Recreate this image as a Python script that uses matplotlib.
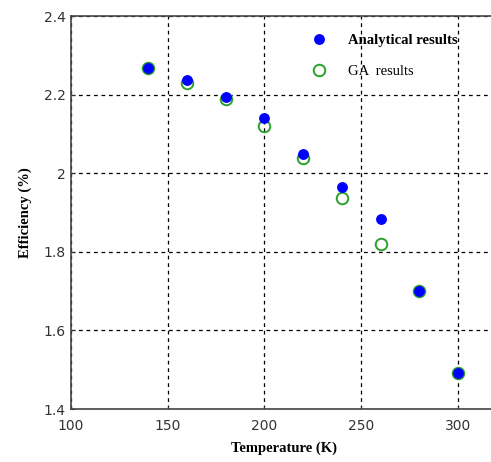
import matplotlib
matplotlib.use("Agg")
import matplotlib.pyplot as plt
from matplotlib.ticker import FuncFormatter

temperature = [140, 160, 180, 200, 220, 240, 260, 280, 300]
analytical = [2.268, 2.237, 2.195, 2.140, 2.049, 1.966, 1.883, 1.701, 1.492]
ga = [2.268, 2.229, 2.190, 2.121, 2.040, 1.938, 1.820, 1.701, 1.492]
xticks = [100, 150, 200, 250, 300]
yticks = [1.4, 1.6, 1.8, 2.0, 2.2, 2.4]

fig = plt.figure(figsize=(4.91, 4.62), dpi=100)
ax = fig.add_axes([0.1446, 0.1147, 0.867, 0.8506])

ax.plot(temperature, ga, linestyle='none', marker='o', markersize=8.3,
        markerfacecolor='none', markeredgecolor='#2ca02c', markeredgewidth=1.4,
        label='GA  results', zorder=3)
ax.plot(temperature, analytical, linestyle='none', marker='o', markersize=6.8,
        markerfacecolor='#0000ff', markeredgecolor='#0000ff',
        label='Analytical results', zorder=4)

ax.set_xlim(100, 320)
ax.set_ylim(1.4, 2.4)
ax.set_xticks(xticks)
ax.set_yticks(yticks)
ax.yaxis.set_major_formatter(FuncFormatter(lambda v, p: f"{v:g}"))
ax.grid(True, color='black', linestyle=(0, (3, 3)), linewidth=0.9)
ax.set_axisbelow(True)
for s in ['left', 'bottom', 'top']:
    ax.spines[s].set_color('#444444')
    ax.spines[s].set_linewidth(1.2)
ax.spines['right'].set_visible(False)
ax.tick_params(direction='in', length=3, colors='#333333', labelsize=10)
ax.tick_params(axis='x', pad=7)
ax.tick_params(axis='y', pad=4)
for lab in ax.get_xticklabels() + ax.get_yticklabels():
    lab.set_fontfamily('DejaVu Sans')
    lab.set_color('#333333')

ax.set_xlabel('Temperature (K)', fontfamily='Liberation Serif', fontweight='bold', fontsize=10.5, labelpad=6)
ax.set_ylabel('Efficiency (%)', fontfamily='Liberation Serif', fontweight='bold', fontsize=10.5, labelpad=8)

handles, labels = ax.get_legend_handles_labels()
leg = ax.legend(handles[::-1], labels[::-1], loc='upper left', bbox_to_anchor=(0.527, 0.987),
                frameon=False, prop={'family': 'Liberation Serif', 'size': 10.5},
                handletextpad=1.2, labelspacing=1.2, handlelength=1.5)
leg.get_texts()[0].set_fontweight('bold')

fig.savefig('out.png', dpi=100)
